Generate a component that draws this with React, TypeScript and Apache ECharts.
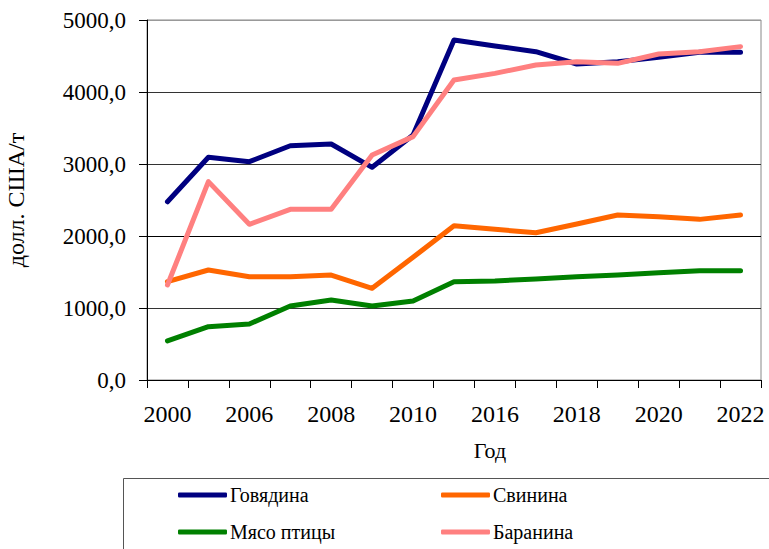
import React, { useEffect, useRef } from "react";
import * as echarts from "echarts";

const years = ["2000", "2005", "2006", "2007", "2008", "2009", "2010", "2015", "2016", "2017", "2018", "2019", "2020", "2021", "2022"];
const beef = [2476, 3093, 3032, 3254, 3278, 2954, 3403, 4722, 4639, 4560, 4389, 4421, 4481, 4551, 4551];
const pork = [1366, 1528, 1435, 1435, 1458, 1273, 1704, 2143, 2093, 2046, 2167, 2292, 2269, 2231, 2292];
const poultry = [542, 741, 778, 1028, 1111, 1028, 1097, 1366, 1375, 1403, 1435, 1458, 1491, 1519, 1519];
const lamb = [1319, 2755, 2162, 2370, 2370, 3125, 3380, 4167, 4259, 4375, 4421, 4398, 4528, 4560, 4630];

const seriesNames = ["Говядина", "Свинина", "Мясо птицы", "Баранина"];
const seriesColors = ["#000080", "#FF6600", "#008000", "#FF8080"];
const seriesData = [beef, pork, poultry, lamb];

const FONT = "Liberation Serif";

export default function App() {
  const ref = useRef<HTMLDivElement>(null);
  useEffect(() => {
    if (!ref.current) return;
    const chart = echarts.init(ref.current, null, { renderer: "svg" });
    const legendCommon = {
      orient: "vertical" as const,
      top: 485,
      itemWidth: 49,
      itemHeight: 5,
      itemGap: 17,
      icon: "roundRect",
      textStyle: { fontFamily: FONT, fontSize: 20, color: "#000", lineHeight: 20, padding: [0, 0, 0, -2] },
      padding: 0,
    };
    chart.setOption({
      animation: false,
      backgroundColor: "#fff",
      textStyle: { fontFamily: FONT },
      grid: {
        left: 147,
        right: 8,
        top: 20,
        bottom: 169,
        show: true,
        borderColor: "#888",
        borderWidth: 1,
      },
      xAxis: {
        type: "category",
        data: years,
        boundaryGap: true,
        axisLine: { lineStyle: { color: "#000", width: 1 } },
        axisTick: { show: true, interval: 0, length: 8, lineStyle: { color: "#000" } },
        axisLabel: {
          interval: 1,
          margin: 22,
          fontFamily: FONT,
          fontSize: 24,
          color: "#000",
        },
        splitLine: { show: false },
      },
      yAxis: {
        type: "value",
        min: 0,
        max: 5000,
        interval: 1000,
        axisLine: { show: true, lineStyle: { color: "#000", width: 1 } },
        axisTick: { show: true, length: 8, lineStyle: { color: "#000" } },
        axisLabel: {
          margin: 21,
          fontFamily: FONT,
          fontSize: 23,
          color: "#000",
          formatter: (v: number) => v.toFixed(1).replace(".", ","),
        },
        splitLine: {
          show: true,
          lineStyle: { color: ["#000", "#333", "#000", "#333", "#333", "#999"], width: 1 },
        },
      },
      legend: [
        { ...legendCommon, left: 178, data: [seriesNames[0], seriesNames[2]] },
        { ...legendCommon, left: 441, data: [seriesNames[1], seriesNames[3]] },
      ],
      graphic: [
        {
          type: "rect",
          shape: { x: 123.5, y: 478.5, width: 700, height: 100 },
          style: { fill: "none", stroke: "#555", lineWidth: 1 },
          z: -1,
        },
        {
          type: "text",
          x: 16,
          y: 200,
          rotation: Math.PI / 2,
          style: {
            text: "долл. США/т",
            fontFamily: FONT,
            fontSize: 24,
            fill: "#000",
            align: "center",
            verticalAlign: "middle",
          },
        },
        {
          type: "text",
          x: 490,
          y: 450,
          style: {
            text: "Год",
            fontFamily: FONT,
            fontSize: 22,
            fill: "#000",
            align: "center",
            verticalAlign: "middle",
          },
        },
      ],
      series: seriesNames.map((name, i) => ({
        name,
        type: "line",
        data: seriesData[i],
        symbol: "none",
        color: seriesColors[i],
        lineStyle: { width: 5, color: seriesColors[i], cap: "round", join: "round" },
        itemStyle: { color: seriesColors[i] },
      })),
    });
    return () => chart.dispose();
  }, []);
  return <div ref={ref} style={{ width: 769, height: 549, position: "absolute", left: 0, top: 0 }} />;
}
